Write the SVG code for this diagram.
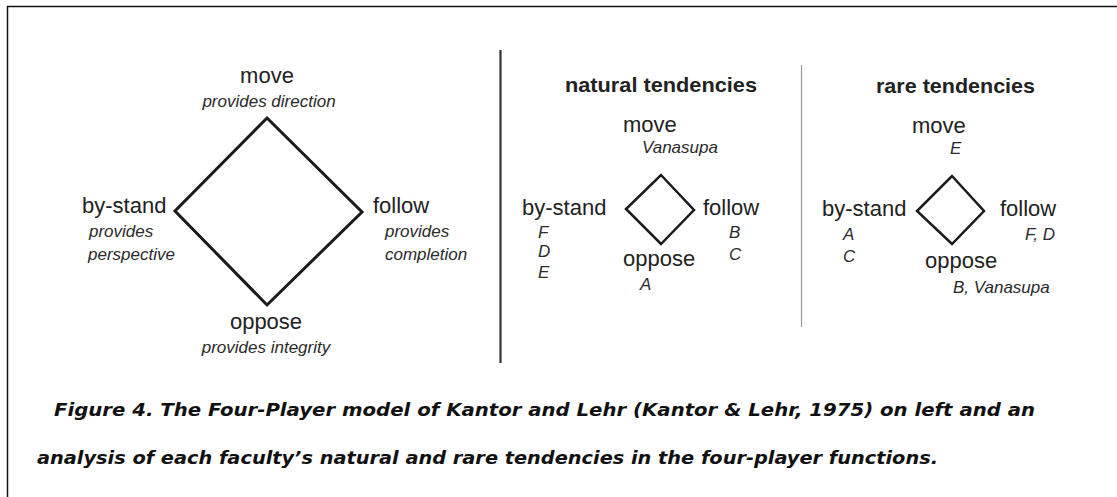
<svg xmlns="http://www.w3.org/2000/svg" width="1117" height="497" viewBox="0 0 1117 497">
<style>
.r{font-family:"Liberation Sans",Arial,sans-serif;font-size:22px;fill:#222}
.i{font-family:"Liberation Sans",Arial,sans-serif;font-size:17px;font-style:italic;fill:#2a2a2a}
.b{font-family:"Liberation Sans",Arial,sans-serif;font-size:21px;font-weight:bold;fill:#222}
.m{text-anchor:middle}
.cap{font-family:"DejaVu Sans",sans-serif;font-size:17.5px;font-weight:bold;font-style:oblique;fill:#111}
.dia{fill:none;stroke:#1a1a1a;stroke-linejoin:miter}
</style>
<rect x="0" y="0" width="1117" height="497" fill="#fff"/>
<g id="frame">
<path d="M7.5,497 V6.5 H1117" fill="none" stroke="#111" stroke-width="1.5"/>
</g>
<g id="connectors">
<line x1="500.5" y1="50" x2="500.5" y2="363" stroke="#333" stroke-width="2.2"/>
<line x1="801.5" y1="65" x2="801.5" y2="327" stroke="#999" stroke-width="1.2"/>
</g>
<g id="model">
<polygon class="dia" points="267,118 362,212 267,305 175,211" stroke-width="3"/>
<text class="r m" x="267" y="83">move</text>
<text class="i m" x="269" y="107">provides direction</text>
<text class="r" x="82" y="213">by-stand</text>
<text class="i" x="89" y="237">provides</text>
<text class="i" x="88" y="260">perspective</text>
<text class="r" x="373" y="213">follow</text>
<text class="i" x="385" y="237">provides</text>
<text class="i" x="385" y="260">completion</text>
<text class="r m" x="266" y="329">oppose</text>
<text class="i m" x="266" y="353">provides integrity</text>
</g>
<g id="natural">
<text class="b" x="565" y="92" textLength="192" lengthAdjust="spacingAndGlyphs">natural tendencies</text>
<polygon class="dia" points="661,175 694,210 661,244 626,209" stroke-width="2.5"/>
<text class="r" x="623" y="132">move</text>
<text class="i" x="642" y="153">Vanasupa</text>
<text class="r" x="522" y="215">by-stand</text>
<text class="i" x="538" y="238">F</text>
<text class="i" x="538" y="257">D</text>
<text class="i" x="538" y="278">E</text>
<text class="r" x="703" y="215">follow</text>
<text class="i" x="729" y="238">B</text>
<text class="i" x="729" y="260">C</text>
<text class="r" x="623" y="266">oppose</text>
<text class="i" x="640" y="290">A</text>
</g>
<g id="rare">
<text class="b" x="876" y="93" textLength="159" lengthAdjust="spacingAndGlyphs">rare tendencies</text>
<polygon class="dia" points="952,176 984,211 952,244 917,211" stroke-width="2.5"/>
<text class="r" x="912" y="133">move</text>
<text class="i" x="950" y="154">E</text>
<text class="r" x="822" y="216">by-stand</text>
<text class="i" x="843" y="240">A</text>
<text class="i" x="843" y="262">C</text>
<text class="r" x="1000" y="216">follow</text>
<text class="i" x="1025" y="240">F, D</text>
<text class="r" x="925" y="268">oppose</text>
<text class="i" x="953" y="293">B, Vanasupa</text>
</g>
<g id="caption">
<text class="cap" x="54" y="416" textLength="981" lengthAdjust="spacingAndGlyphs">Figure 4. The Four-Player model of Kantor and Lehr (Kantor &amp; Lehr, 1975) on left and an</text>
<text class="cap" x="37" y="464" textLength="901" lengthAdjust="spacingAndGlyphs">analysis of each faculty’s natural and rare tendencies in the four-player functions.</text>
</g>
</svg>
